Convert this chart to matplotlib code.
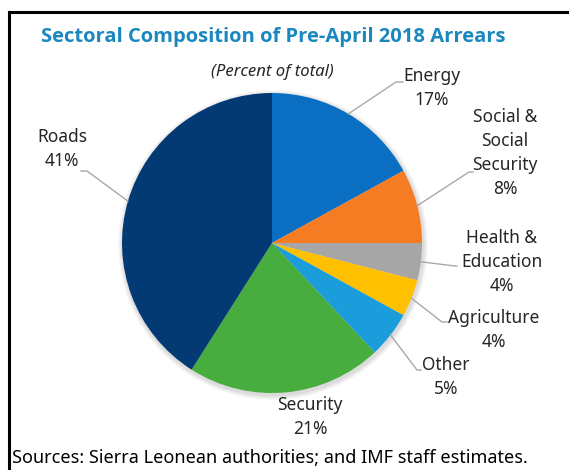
import numpy as np
import matplotlib
matplotlib.use('agg')
import matplotlib.pyplot as plt
from matplotlib.lines import Line2D

# arrears by sector, clockwise from 12 o'clock
sectors = ["Energy", "Social &\nSocial\nSecurity", "Health &\nEducation", "Agriculture",
           "Other", "Security", "Roads"]
shares = [17, 8, 4, 4, 5, 21, 41]
colors = ["#0A6FC2", "#F57C22", "#A6A6A6", "#FFC000", "#1B9DDB", "#47AD3E", "#033A73"]

W, H = 569, 470
plt.rcParams['font.family'] = ['Noto Sans', 'DejaVu Sans']
txt = "#262626"

fig = plt.figure(figsize=(W / 100, H / 100), dpi=100)
ax = fig.add_axes([0, 0, 1, 1])
ax.set_xlim(0, W)
ax.set_ylim(0, H)
ax.set_aspect('equal')
ax.axis('off')

def py(y):
    # pixel row -> data y
    return H - y

cx, cy, r = 272, py(243), 150

# soft shadow behind the pie
for k in range(6):
    ax.add_patch(plt.Circle((cx + 1, cy - 2), r + 1 + k * 0.8, color='black',
                            alpha=0.025, lw=0, zorder=1))

wedges, _ = ax.pie(shares, colors=colors, startangle=90, counterclock=False,
                   center=(cx, cy), radius=r, frame=True,
                   wedgeprops=dict(linewidth=0, zorder=2))
ax.set_xlim(0, W)
ax.set_ylim(0, H)
ax.axis('off')

# label text position, elbow and end of the leader line (pixels)
layout = {
    "Energy": dict(xy=(432, 88), elbow=(396, 82), end=(403, 82)),
    "Social &\nSocial\nSecurity": dict(xy=(505, 153), elbow=(469, 172), end=(473, 172)),
    "Health &\nEducation": dict(xy=(502, 262), elbow=(455, 266), end=(457, 266)),
    "Agriculture": dict(xy=(494, 330), elbow=(442, 322), end=(447, 322)),
    "Other": dict(xy=(446, 377), elbow=(417, 370), end=(421, 370)),
    "Security": dict(xy=(310, 417), elbow=None, end=None),
    "Roads": dict(xy=(62, 149), elbow=(87, 171), end=(81, 171)),
}

for w, name, val in zip(wedges, sectors, shares):
    lay = layout[name]
    x, y = lay["xy"]
    ax.text(x, py(y), f"{name}\n{val}%", ha='center', va='center', fontsize=12.5,
            color=txt, linespacing=1.45, zorder=5)
    if lay["elbow"] is None:
        continue
    mid = np.deg2rad((w.theta1 + w.theta2) / 2)
    ex, ey = cx + r * np.cos(mid), cy + r * np.sin(mid)
    (bx, by), (tx, ty) = lay["elbow"], lay["end"]
    ax.plot([ex, bx, tx], [ey, py(by), py(ty)], color="#A8A8A8", lw=1, zorder=4)

fig.text(273 / W, 1 - 37 / H, "Sectoral Composition of Pre-April 2018 Arrears",
         ha='center', va='center', fontsize=14.5, fontweight='bold', color="#1B87BF",
         family=['Open Sans', 'DejaVu Sans'])
fig.text(272 / W, 1 - 72 / H, "(Percent of total)", ha='center', va='center',
         fontsize=12, style='italic', color=txt)
fig.text(12 / W, 1 - 458 / H, "Sources: Sierra Leonean authorities; and IMF staff estimates.",
         ha='left', va='center', fontsize=13, color="black")

# box frame (left and top edges)
fig.add_artist(Line2D([9 / W, 9 / W], [0, 1 - 12 / H], color='black', lw=2.2,
                      transform=fig.transFigure))
fig.add_artist(Line2D([9 / W, 1], [1 - 12 / H, 1 - 12 / H], color='black', lw=2.2,
                      transform=fig.transFigure))

plt.savefig('out.png', dpi=100)
